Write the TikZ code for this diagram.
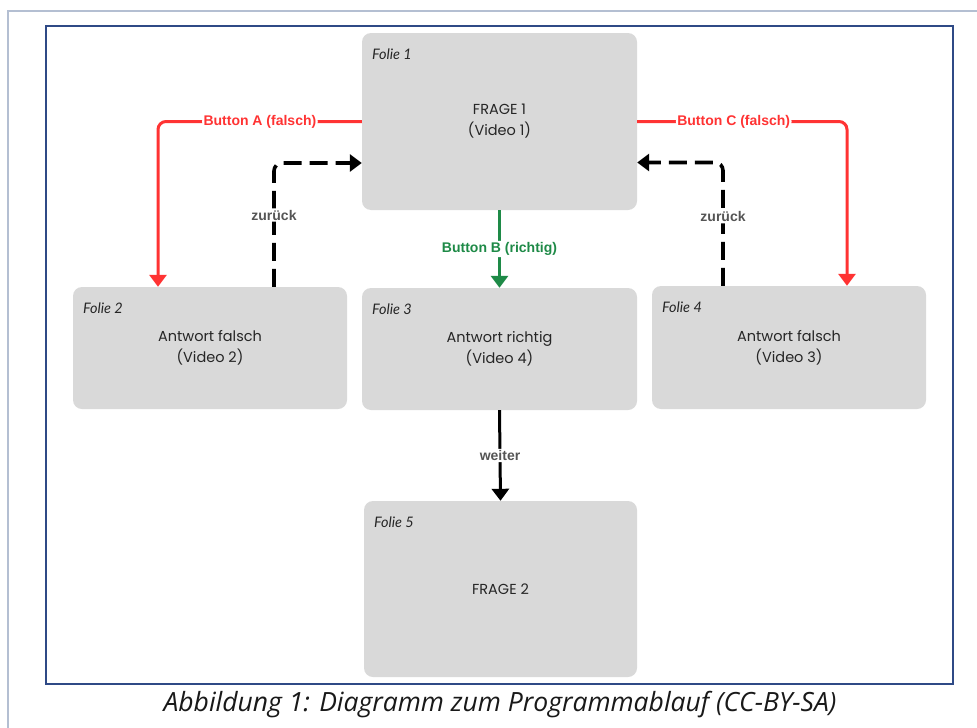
\documentclass[tikz,border=0pt]{standalone}
\usepackage{fontspec}
\setmainfont{Open Sans}
\newfontfamily\boxfont{Poppins}
\newfontfamily\labelfont{Liberation Sans}
\newfontfamily\foliefont{Lato}
\usetikzlibrary{arrows.meta}
\definecolor{boxgray}{HTML}{D9D9D9}
\definecolor{falschred}{HTML}{FF3333}
\definecolor{richtiggreen}{HTML}{1E8A47}
\definecolor{labelgray}{HTML}{555555}
\definecolor{innerblue}{HTML}{2F4A86}
\definecolor{outerblue}{HTML}{B4BFD2}
\tikzset{
  folie/.style={fill=boxgray, rounded corners=9pt, minimum width=#1, align=center,
    font=\boxfont\fontsize{14.5}{21}\selectfont, text=black!85},
  folielabel/.style={anchor=north west, font=\foliefont\itshape\fontsize{14.5}{16}\selectfont,
    text=black!85, inner sep=0pt},
  conn/.style={line width=3pt, rounded corners=8pt, -{Triangle[width=17pt,length=12pt]}},
  backconn/.style={conn, line width=3.6pt, dash pattern=on 18pt off 8pt},
  connlabel/.style={fill=white, inner sep=1.5pt, font=\labelfont\bfseries\fontsize{14}{16}\selectfont}
}
\begin{document}
\begin{tikzpicture}[x=1pt,y=-1pt]
  \useasboundingbox (0,0) rectangle (977,728);
  \fill[white] (0,0) rectangle (977,728);
  % frames
  \draw[outerblue, line width=2pt] (8,740) |- (990,11);
  \draw[innerblue, line width=1.2pt] (46,26) rectangle (953,684);
  % slides
  \node[folie=275pt, minimum height=177pt] (f1) at (499.5,121.5) {FRAGE 1\\(Video 1)};
  \node[folie=274pt, minimum height=122pt] (f2) at (210,348) {Antwort falsch\\(Video 2)};
  \node[folie=275pt, minimum height=122pt] (f3) at (499.5,349) {Antwort richtig\\(Video 4)};
  \node[folie=274pt, minimum height=123pt] (f4) at (789,347.5) {Antwort falsch\\(Video 3)};
  \node[folie=273pt, minimum height=176pt] (f5) at (500.5,589) {FRAGE 2};
  \node[folielabel] (l1) at ([shift={(10pt,-16pt)}]f1.north west) {Folie 1};
  \node[folielabel] (l2) at ([shift={(10pt,-16pt)}]f2.north west) {Folie 2};
  \node[folielabel] (l3) at ([shift={(10pt,-16pt)}]f3.north west) {Folie 3};
  \node[folielabel] (l4) at ([shift={(10pt,-16pt)}]f4.north west) {Folie 4};
  \node[folielabel] (l5) at ([shift={(10pt,-16pt)}]f5.north west) {Folie 5};
  % connectors
  \draw[conn, falschred] (f1.west) -| ([xshift=-52pt]f2.north)
    node[connlabel, pos=0.25, text=falschred] {Button A (falsch)};
  \draw[conn, falschred] (f1.east) -| ([xshift=58pt]f4.north)
    node[connlabel, pos=0.23, text=falschred] {Button C (falsch)};
  \draw[backconn, black] ([xshift=64pt]f2.north) |- ([yshift=-41.5pt]f1.west)
    node[connlabel, pos=0.29, text=labelgray] {zurück};
  \draw[backconn, black] ([xshift=-66pt]f4.north) |- ([yshift=-41pt]f1.east)
    node[connlabel, pos=0.28, text=labelgray] {zurück};
  \draw[conn, richtiggreen] (f1.south) -- (f3.north)
    node[connlabel, pos=0.5] {Button B (richtig)};
  \draw[conn, black] (f3.south) -- (f5.north)
    node[connlabel, pos=0.5, text=labelgray] {weiter};
  % caption
  \node[font=\itshape\fontsize{26.5}{30}\selectfont, text=black!90] (cap) at (500,705)
    {Abbildung 1: Diagramm zum Programmablauf (CC-BY-SA)};
\end{tikzpicture}
\end{document}
